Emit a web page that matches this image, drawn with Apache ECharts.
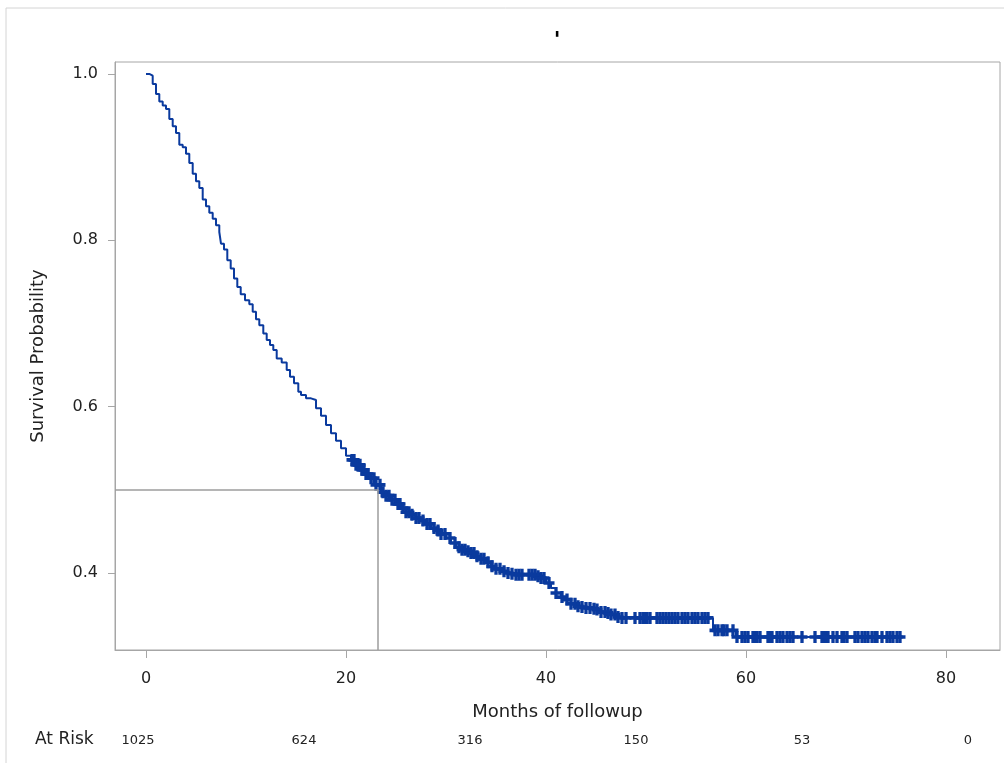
<!DOCTYPE html>
<html>
<head>
<meta charset="utf-8">
<script src="https://cdn.jsdelivr.net/npm/echarts@6/dist/echarts.min.js"></script>
<style>
    html, body { margin: 0; padding: 0; background: #fff; }
    #km { width: 1004px; height: 763px; }
</style>
</head>
<body>
<div id="km"></div>
<script>
// Kaplan-Meier curve, values
var months = [0, 0.33, 0.67, 1.0, 1.33, 1.67, 2.0, 2.33, 2.67, 3.0, 3.33, 3.67, 4.0, 4.33, 4.67,
    5.0, 5.33, 5.67, 6.0, 6.33, 6.67, 7.0, 7.33, 7.5, 7.8, 8.13, 8.47, 8.8, 9.13, 9.47, 9.9,
    10.33, 10.67, 11.0, 11.33, 11.73, 12.07, 12.4, 12.73, 13.07, 13.57, 14.07, 14.4, 14.8, 15.23,
    15.5, 16, 16.5, 17, 17.5, 18, 18.5, 19, 19.5,
    20, 20.5, 21, 21.5, 22, 22.5, 23, 23.5, 24, 24.5, 25, 25.5, 26, 26.5, 27, 27.5, 28, 28.5, 29, 29.5,
    30, 30.5, 31, 31.5, 32, 32.5, 33, 33.5, 34, 34.5, 35, 35.5, 36, 36.5, 37, 37.5, 38, 38.5, 39, 39.5,
    40, 40.5, 41, 41.5, 42, 42.5, 43, 43.5, 44, 44.5, 45, 45.5, 46, 46.5, 47, 47.5, 56.7, 59.0, 75.7];
var survival = [1.000, 0.998, 0.988, 0.976, 0.967, 0.962, 0.958, 0.946, 0.937, 0.929, 0.915, 0.912, 0.904, 0.893, 0.880,
    0.871, 0.863, 0.849, 0.841, 0.833, 0.826, 0.818, 0.810, 0.796, 0.789, 0.776, 0.766, 0.754, 0.744, 0.735, 0.728,
    0.723, 0.714, 0.705, 0.698, 0.688, 0.680, 0.674, 0.668, 0.658, 0.653, 0.644, 0.636, 0.628, 0.618,
    0.614, 0.610, 0.608, 0.598, 0.589, 0.578, 0.568, 0.559, 0.550,
    0.541, 0.536, 0.530, 0.524, 0.519, 0.514, 0.506, 0.497, 0.493, 0.488, 0.483, 0.478, 0.473, 0.470, 0.466, 0.463, 0.459, 0.454, 0.451, 0.447,
    0.442, 0.436, 0.431, 0.428, 0.426, 0.424, 0.420, 0.417, 0.413, 0.408, 0.405, 0.402, 0.400, 0.399, 0.398, 0.398, 0.398, 0.398, 0.396, 0.394,
    0.388, 0.382, 0.376, 0.371, 0.368, 0.363, 0.360, 0.359, 0.358, 0.357, 0.356, 0.353, 0.352, 0.350, 0.347, 0.346, 0.331, 0.323, 0.323];

// censored observations (months)
var censorTimes = [20.6, 20.8, 21.0, 21.2, 21.4, 21.6, 21.8, 22.0, 22.2, 22.5, 22.8, 23.0, 23.4, 23.7, 24.0, 24.3, 24.6, 24.9,
    25.2, 25.4, 25.7, 26.0, 26.3, 26.6, 27.0, 27.3, 27.7, 28.1, 28.4, 28.8, 29.2, 29.5, 29.9, 30.4, 30.9, 31.3, 31.6, 31.9,
    32.2, 32.5, 32.8, 33.1, 33.5, 33.8, 34.2, 34.6, 35.0, 35.4, 35.8, 36.2, 36.6, 37.0, 37.3, 37.6, 38.3, 38.6, 38.9, 39.2,
    39.5, 39.8, 40.3, 41.0, 41.6, 42.1, 42.5, 42.9, 43.2, 43.6, 44.0, 44.4, 44.8, 45.1, 45.5, 45.9, 46.2, 46.5, 46.9, 47.2,
    47.6, 48.0, 48.9, 49.4, 49.7, 49.9, 50.1, 50.4, 51.1, 51.4, 51.7, 52.0, 52.3, 52.6, 52.9, 53.2, 53.6, 53.9, 54.2, 54.6,
    54.9, 55.2, 55.6, 55.9, 56.2, 56.9, 57.2, 57.6, 57.8, 58.1, 58.7, 59.1, 59.6, 59.9, 60.2, 60.7, 60.9, 61.1, 61.4, 62.2,
    62.4, 62.6, 63.1, 63.4, 63.7, 64.1, 64.4, 64.7, 65.6, 66.9, 67.6, 67.8, 68.0, 68.2, 68.7, 69.1, 69.6, 69.8, 70.1, 70.9,
    71.2, 71.6, 71.9, 72.2, 72.6, 72.9, 73.1, 73.6, 74.1, 74.4, 74.7, 75.1, 75.4];

var medianMonths = 23.2;
var xTicks = [0, 20, 40, 60, 80];
var yTicks = [0.4, 0.6, 0.8, 1.0];
var atRisk = ['1025', '624', '316', '150', '53', '0'];

var xMin = -3.1, xMax = 85.4;
var yMin = 0.3074, yMax = 1.0144;

var blue = '#0a3a9e';
var font = 'DejaVu Sans';

// survival value at time t (step function)
function survivalAt(t) {
    var s = survival[0];
    for (var i = 0; i < months.length; i++) {
        if (months[i] <= t) s = survival[i];
    }
    return s;
}

function curveData() {
    var out = [];
    for (var i = 0; i < months.length; i++) {
        out.push([months[i], survival[i]]);
    }
    return out;
}

function censorData() {
    var out = [];
    for (var i = 0; i < censorTimes.length; i++) {
        out.push([censorTimes[i], survivalAt(censorTimes[i])]);
    }
    return out;
}

var plusPath = 'path://M3.5,0h3v3.5h3.5v3h-3.5v3.5h-3v-3.5h-3.5v-3h3.5z';

var kmChart = echarts.init(document.getElementById('km'));

var kmOption = {
    animation: false,
    backgroundColor: '#fff',
    title: {
        text: "'",
        left: 552,
        top: 25,
        textAlign: 'center',
        textStyle: { fontFamily: font, fontSize: 22, fontWeight: 'bold', color: '#000' }
    },
    graphic: [
        {
            type: 'rect',
            shape: { x: 6, y: 8, width: 1020, height: 800 },
            style: { fill: 'none', stroke: '#d4d4d4', lineWidth: 1 },
            silent: true
        },
        {
            type: 'text',
            left: 35,
            top: 731,
            style: { text: 'At Risk', fontFamily: font, fontSize: 17, fill: '#222' }
        }
    ],
    grid: [
        {
            left: 115, top: 62, right: 4, bottom: 113,
            show: true, borderColor: '#a6a6a6', borderWidth: 1,
            containLabel: false, outerBoundsMode: 'none'
        },
        {
            left: 138, right: 36, top: 725, height: 1,
            containLabel: false, outerBoundsMode: 'none'
        }
    ],
    xAxis: [
        {
            type: 'value',
            gridIndex: 0,
            min: xMin,
            max: xMax,
            name: 'Months of followup',
            nameLocation: 'middle',
            nameGap: 53,
            nameMoveOverlap: false,
            nameTextStyle: { fontFamily: font, fontSize: 18, color: '#222' },
            axisLine: { show: true, onZero: false, lineStyle: { color: '#a6a6a6' } },
            axisTick: { show: true, inside: false, length: 8, customValues: xTicks, lineStyle: { color: '#a6a6a6' } },
            axisLabel: { customValues: xTicks, margin: 21, fontFamily: font, fontSize: 16, color: '#222' },
            splitLine: { show: false }
        },
        {
            type: 'category',
            gridIndex: 1,
            boundaryGap: false,
            data: atRisk,
            axisLine: { show: false },
            axisTick: { show: false },
            axisLabel: { margin: 8, fontFamily: font, fontSize: 13, color: '#222', interval: 0 },
            splitLine: { show: false }
        }
    ],
    yAxis: [
        {
            type: 'value',
            gridIndex: 0,
            min: yMin,
            max: yMax,
            name: 'Survival Probability',
            nameLocation: 'middle',
            nameGap: 68,
            nameMoveOverlap: false,
            nameTextStyle: { fontFamily: font, fontSize: 18, color: '#222' },
            axisLine: { show: true, onZero: false, lineStyle: { color: '#a6a6a6' } },
            axisTick: { show: true, inside: false, length: 7, customValues: yTicks, lineStyle: { color: '#a6a6a6' } },
            axisLabel: {
                customValues: yTicks, margin: 17, fontFamily: font, fontSize: 16, color: '#222',
                formatter: function (v) { return v.toFixed(1); }
            },
            splitLine: { show: false }
        },
        {
            type: 'value',
            gridIndex: 1,
            show: false
        }
    ],
    series: [
        {
            name: 'Survival',
            type: 'line',
            xAxisIndex: 0,
            yAxisIndex: 0,
            step: 'end',
            showSymbol: false,
            lineStyle: { color: blue, width: 2 },
            data: curveData(),
            markLine: {
                silent: true,
                symbol: 'none',
                label: { show: false },
                lineStyle: { color: '#9c9c9c', width: 1.5, type: 'solid' },
                data: [
                    [{ coord: [xMin, 0.5] }, { coord: [medianMonths, 0.5] }],
                    [{ coord: [medianMonths, 0.5] }, { coord: [medianMonths, yMin] }]
                ]
            },
            z: 3
        },
        {
            name: 'Censored',
            type: 'scatter',
            xAxisIndex: 0,
            yAxisIndex: 0,
            symbol: plusPath,
            symbolSize: [11, 12],
            itemStyle: { color: blue, opacity: 1 },
            data: censorData(),
            z: 4
        }
    ]
};

kmChart.setOption(kmOption);
</script>
</body>
</html>
